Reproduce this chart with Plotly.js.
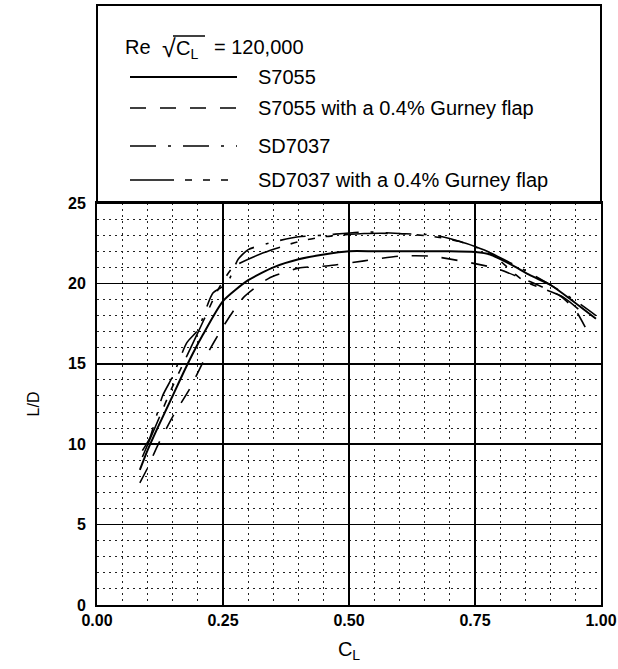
<!DOCTYPE html>
<html>
<head>
<meta charset="utf-8">
<script src="https://cdn.plot.ly/plotly-3.0.1.min.js"></script>
<style>html,body{margin:0;padding:0;background:#fff;}#chart{width:618px;height:669px;}</style>
</head>
<body>
<div id="chart"></div>
<script>
// ---- data ----
const seriesNames = ["S7055", "S7055 with a 0.4% Gurney flap", "SD7037", "SD7037 with a 0.4% Gurney flap"];

const s7055_CL = [0.085,0.10,0.12,0.15,0.18,0.21,0.25,0.30,0.35,0.40,0.45,0.50,0.55,0.60,0.65,0.70,0.75,0.78,0.82,0.86,0.90,0.94,0.99];
const s7055_LD = [8.4,9.6,11.0,13.0,15.0,16.8,18.9,20.2,21.0,21.5,21.8,22.0,22.0,22.0,22.0,22.0,21.95,21.8,21.2,20.5,19.9,19.0,17.8];

const s7055g_CL = [0.085,0.10,0.12,0.15,0.185,0.215,0.25,0.29,0.34,0.40,0.46,0.53,0.60,0.66,0.73,0.79,0.86,0.92,0.95,0.975];
const s7055g_LD = [7.6,8.5,9.9,11.7,13.5,15.4,17.3,19.1,20.3,20.95,21.1,21.4,21.7,21.7,21.35,20.95,20.1,19.2,18.3,16.9];

const sd7037_CL = [0.09,0.105,0.13,0.15,0.178,0.20,0.23,0.258,0.28,0.30,0.353,0.40,0.45,0.53,0.60,0.67,0.72,0.78,0.85,0.90,0.95,0.99];
const sd7037_LD = [9.6,10.4,13.0,14.2,16.3,17.1,19.4,20.0,21.5,22.1,22.6,22.9,23.0,23.2,23.1,23.0,22.6,21.9,20.8,19.9,18.9,18.0];

const sd7037g_CL = [0.09,0.12,0.15,0.18,0.21,0.24,0.27,0.33,0.40,0.45,0.53,0.60,0.67,0.72,0.78,0.845,0.925,0.955];
const sd7037g_LD = [9.2,11.4,13.6,15.6,17.6,19.6,21.0,21.9,22.6,22.9,23.1,23.1,22.9,22.6,21.9,20.2,19.15,18.4];

const xTicks = [0, 0.25, 0.5, 0.75, 1.0];
const xTickLabels = ["0.00", "0.25", "0.50", "0.75", "1.00"];
const yTicks = [0, 5, 10, 15, 20, 25];
const yTickLabels = ["0", "5", "10", "15", "20", "25"];
const legendTitle = "= 120,000";

// ---- styling ----
const FONT = "'Liberation Sans', Arial, sans-serif";
const dashes = ["solid", "16px,14px", "26px,12px,3px,12px", "44px,11px,7px,11px,7px,11px,7px,11px"];
const widths = [2, 1.6, 1.6, 1.6];

const L = 97, R = 601, T = 203, B = 605, FRAME_TOP = 5;
const px = x => (x - L) / (R - L);
const py = y => (B - y) / (B - T);

const xs = [s7055_CL, s7055g_CL, sd7037_CL, sd7037g_CL];
const ys = [s7055_LD, s7055g_LD, sd7037_LD, sd7037g_LD];
const traces = xs.map((x, i) => ({
  x: x, y: ys[i], type: "scatter", mode: "lines", name: seriesNames[i],
  line: {color: "#000", width: widths[i], dash: dashes[i], shape: "spline", smoothing: 0.6},
  hoverinfo: "skip"
}));

// legend drawn inside the top frame
const rowsY = [77, 108, 146, 180];
const shapes = [
  {type: "rect", xref: "paper", yref: "paper", x0: 0, x1: 1, y0: 1, y1: py(FRAME_TOP),
   line: {color: "#000", width: 2}, fillcolor: "rgba(0,0,0,0)"},
  // overline of the square root
  {type: "line", xref: "paper", yref: "paper", x0: px(173), x1: px(205), y0: py(36), y1: py(36),
   line: {color: "#000", width: 1.5}}
];
const annotations = [
  {xref: "paper", yref: "paper", x: px(123), y: py(47), xanchor: "left", yanchor: "middle",
   text: "Re", showarrow: false, font: {family: FONT, size: 20, color: "#000"}},
  {xref: "paper", yref: "paper", x: px(160), y: py(48), xanchor: "left", yanchor: "middle",
   text: "√", showarrow: false, font: {family: FONT, size: 25, color: "#000"}},
  {xref: "paper", yref: "paper", x: px(174), y: py(49), xanchor: "left", yanchor: "middle",
   text: "C<sub>L</sub>", showarrow: false, font: {family: FONT, size: 20, color: "#000"}},
  {xref: "paper", yref: "paper", x: px(212), y: py(47), xanchor: "left", yanchor: "middle",
   text: legendTitle, showarrow: false, font: {family: FONT, size: 20, color: "#000"}}
];
seriesNames.forEach((n, i) => {
  shapes.push({type: "line", xref: "paper", yref: "paper", x0: px(130), x1: px(237),
    y0: py(rowsY[i]), y1: py(rowsY[i]), line: {color: "#000", width: widths[i], dash: dashes[i]}});
  annotations.push({xref: "paper", yref: "paper", x: px(256), y: py(rowsY[i]), xanchor: "left", yanchor: "middle",
    text: n, showarrow: false, font: {family: FONT, size: 20, color: "#000"}});
});

const layout = {
  width: 618, height: 669,
  margin: {l: L, r: 618 - R, t: T, b: 669 - B, pad: 0},
  paper_bgcolor: "#fff", plot_bgcolor: "#fff",
  showlegend: false,
  font: {family: FONT, color: "#000"},
  xaxis: {
    range: [0, 1], tickvals: xTicks, ticktext: xTickLabels, ticks: "",
    tickfont: {family: FONT, size: 16, color: "#000", weight: "bold"},
    showgrid: true, gridcolor: "#000", gridwidth: 1.5,
    minor: {dtick: 0.05, showgrid: true, gridcolor: "#222", gridwidth: 1, griddash: "2px,4px"},
    showline: true, linecolor: "#000", linewidth: 2, mirror: true, zeroline: false,
    title: {text: "C<sub>L</sub>", font: {family: FONT, size: 20, color: "#000"}, standoff: 14}
  },
  yaxis: {
    range: [0, 25], tickvals: yTicks, ticktext: yTickLabels, ticks: "",
    tickfont: {family: FONT, size: 16, color: "#000", weight: "bold"},
    showgrid: true, gridcolor: "#000", gridwidth: 1.5,
    minor: {dtick: 1, showgrid: true, gridcolor: "#222", gridwidth: 1, griddash: "2px,4px"},
    showline: true, linecolor: "#000", linewidth: 2, mirror: true, zeroline: false,
    ticklabelstandoff: 6,
    title: {text: "L/D", font: {family: FONT, size: 16, color: "#000"}, standoff: 24}
  },
  shapes: shapes,
  annotations: annotations
};

Plotly.newPlot("chart", traces, layout, {staticPlot: true, displayModeBar: false});
</script>
</body>
</html>
